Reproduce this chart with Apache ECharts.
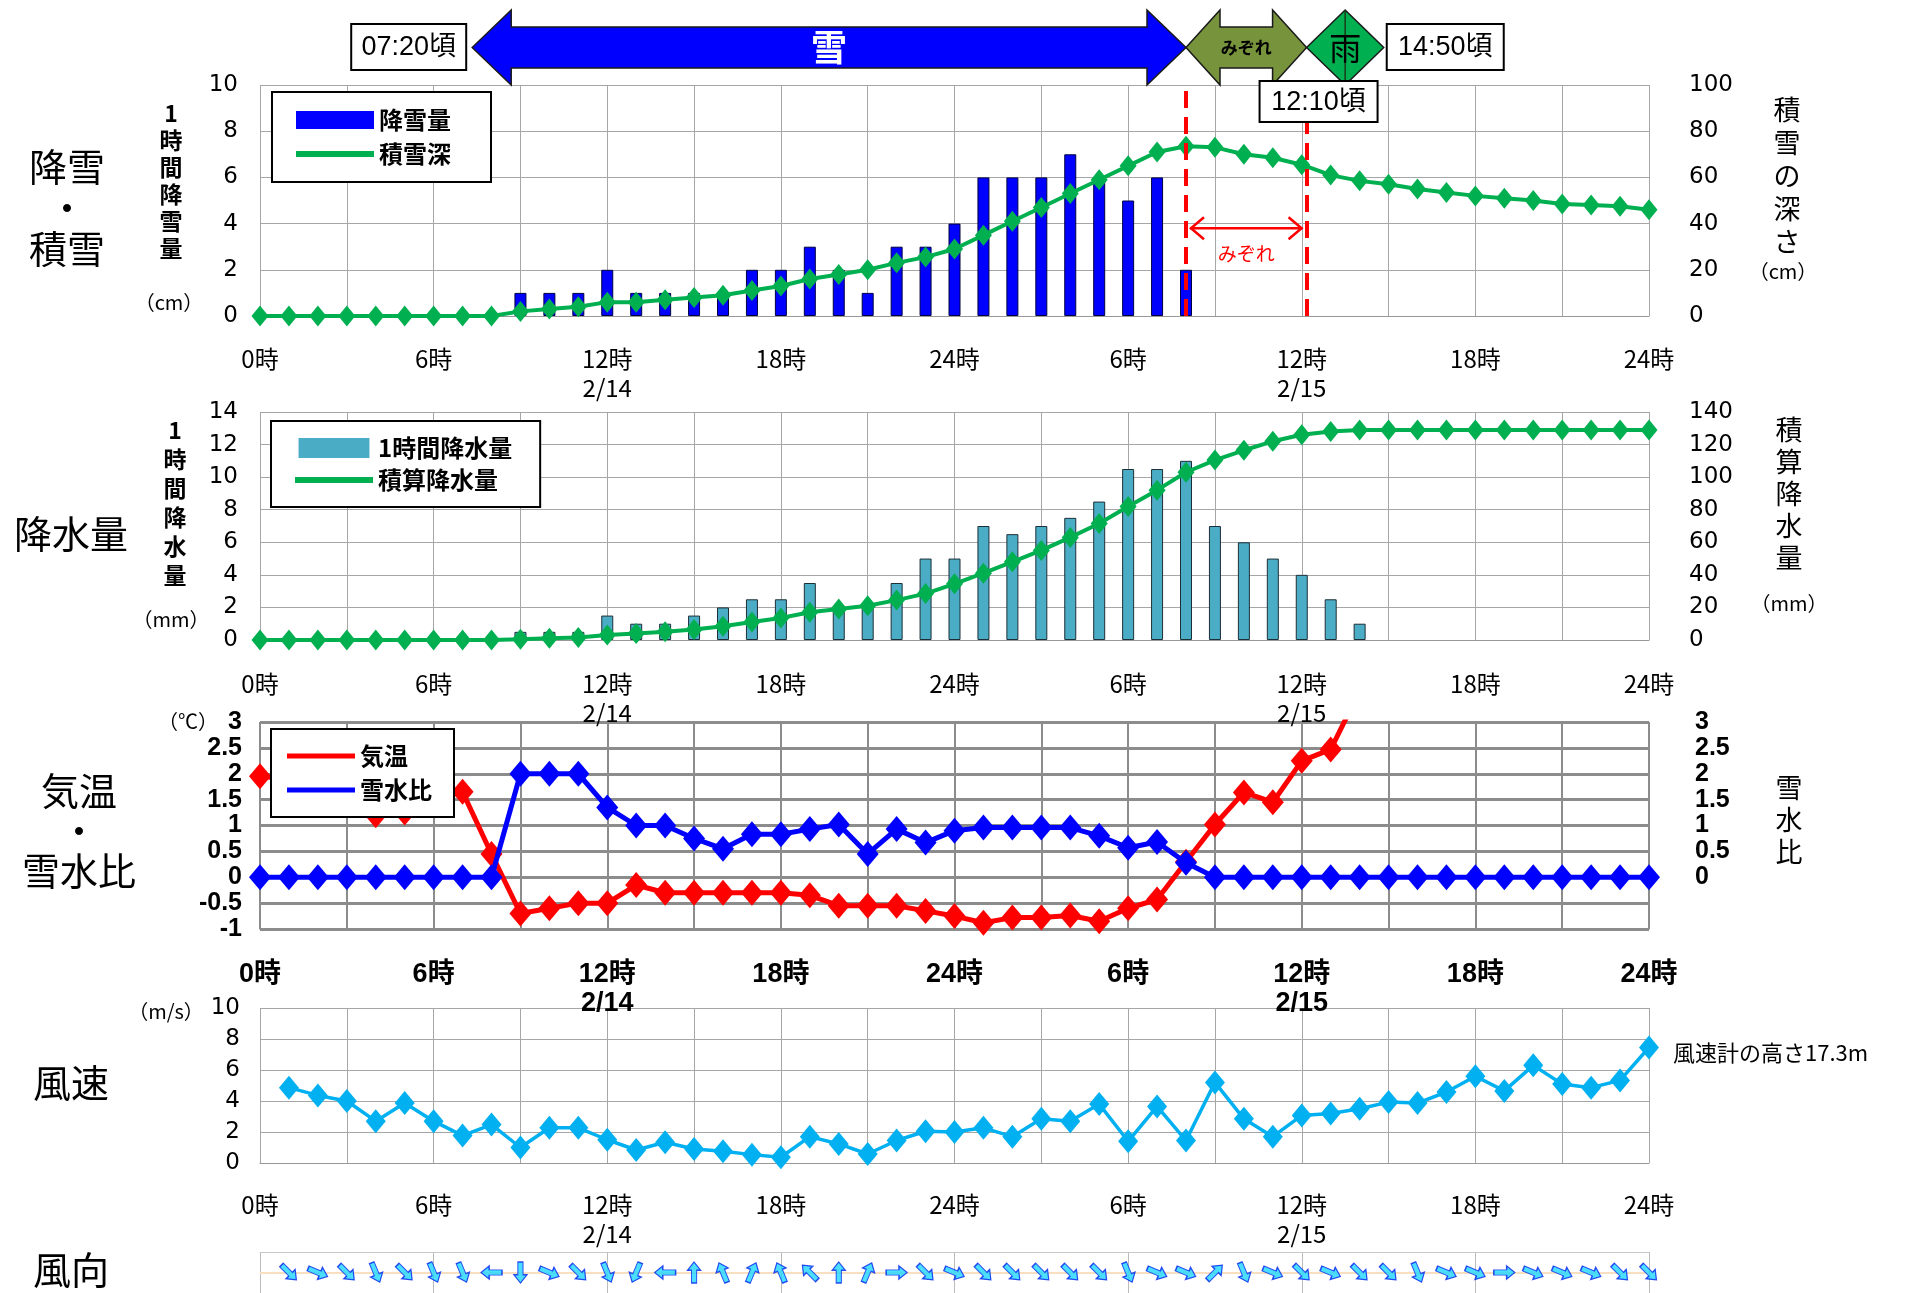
<!DOCTYPE html>
<html><head><meta charset="utf-8">
<script src="https://cdn.jsdelivr.net/npm/echarts@6.0.0/dist/echarts.min.js"></script>
<style>html,body{margin:0;padding:0;background:#fff}#c{width:1915px;height:1293px}</style>
</head><body><div id="c"></div>
<script>
// ---- data (hour 0 = 2/14 0時 ... hour 48 = 2/15 24時) ----
const hours = [0,1,2,3,4,5,6,7,8,9,10,11,12,13,14,15,16,17,18,19,20,21,22,23,24,25,26,27,28,29,30,31,32,33,34,35,36,37,38,39,40,41,42,43,44,45,46,47,48];
const tickLabels = ['0時','6時','12時\n2/14','18時','24時','6時','12時\n2/15','18時','24時'];
// 降雪量 (cm)
const snowfall = [0,0,0,0,0,0,0,0,0,1,1,1,2,1,1,1,1,2,2,3,2,1,3,3,4,6,6,6,7,6,5,6,2,0,0,0,0,0,0,0,0,0,0,0,0,0,0,0,0];
// 積雪深 (cm)
const snowDepth = [0,0,0,0,0,0,0,0,0,2,3,4,6,6,7,8,9,11,13,16,18,20,23,25.5,29,35,41,47,53,59,65,71,73.5,73,70,68.5,65.5,61,58.5,57,55,53.5,52,51,50,48.5,48,47.5,46];
// 1時間降水量 (mm)
const precip = [0,0,0,0,0,0,0,0,0,0.5,0.5,0.5,1.5,1,1,1.5,2,2.5,2.5,3.5,2,2,3.5,5,5,7,6.5,7,7.5,8.5,10.5,10.5,11,7,6,5,4,2.5,1,0,0,0,0,0,0,0,0,0,0];
// 積算降水量 (mm)
const precipTotal = [0,0,0,0,0,0,0,0,0,0.5,1,1.5,3,4,5,6.5,8.5,11,13.5,17,19,21,24.5,28.5,34.5,41,48,55,63,71.5,82,92,103,110.5,116.5,122,126,128,129,129,129,129,129,129,129,129,129,129,129];
// 気温 (℃)
const temperature = [1.95,1.9,1.8,1.6,1.2,1.25,1.5,1.65,0.45,-0.7,-0.6,-0.5,-0.5,-0.15,-0.3,-0.3,-0.3,-0.3,-0.3,-0.35,-0.55,-0.55,-0.55,-0.65,-0.75,-0.88,-0.78,-0.78,-0.74,-0.85,-0.6,-0.43,0.3,1.02,1.64,1.45,2.25,2.47,3.6,null,null,null,null,null,null,null,null,null,null];
// 雪水比
const snowWaterRatio = [0,0,0,0,0,0,0,0,0,2,2,2,1.35,1,1,0.75,0.55,0.83,0.83,0.93,1.02,0.45,0.93,0.67,0.9,0.96,0.96,0.96,0.96,0.8,0.57,0.68,0.28,0,0,0,0,0,0,0,0,0,0,0,0,0,0,0,0];
// 風速 (m/s)
const windSpeed = [null,4.86,4.36,4.0,2.7,3.87,2.7,1.77,2.48,1.0,2.27,2.27,1.5,0.84,1.34,0.9,0.76,0.54,0.37,1.7,1.23,0.58,1.45,2.05,2.0,2.27,1.7,2.85,2.7,3.8,1.4,3.65,1.45,5.2,2.85,1.7,3.07,3.2,3.5,3.93,3.87,4.58,5.6,4.65,6.3,5.1,4.86,5.33,7.45];
// 風向 (16方位, 吹いてくる方向)
const windDir = [null,'北西','西北西','北西','北北西','北西','北北西','北北西','東','北','西北西','北西','北北西','北北東','東','南','南南東','南南西','南南東','南東','南','南南西','西','北西','西北西','北西','北西','北西','北西','北西','北北西','西北西','西北西','南西','北北西','西北西','北西','西北西','北西','北西','北北西','西北西','西北西','西','西北西','西北西','西北西','北西','北西'];
const dirNames = ['北','北北東','北東','東北東','東','東南東','南東','南南東','南','南南西','南西','西南西','西','西北西','北西','北北西'];
// 天気の変化の時刻 (hour)
const snowStart = 7 + 20/60;   // 07:20頃
const sleetStart = 32;         // 2/15 08:00
const rainStart = 36 + 10/60;  // 12:10頃
const rainEnd = 38 + 50/60;    // 14:50頃

const JP = "'Noto Sans CJK JP', 'DejaVu Sans', sans-serif";
const NUM = "'DejaVu Sans', 'Noto Sans CJK JP', sans-serif";
const NARROW = "'Liberation Sans Narrow', 'Liberation Sans', 'Noto Sans CJK JP', sans-serif";

const pairs = arr => hours.map((h,i) => [h, arr[i]]);
const barPairs = arr => hours.map((h,i) => [h, arr[i] === 0 ? null : arr[i]]);
const GL = '#a6a6a6';

function xAxisFor(gi, opts) {
  opts = opts || {};
  return {
    type: 'value', gridIndex: gi, min: 0, max: 48, interval: opts.interval || 3,
    position: opts.position || 'bottom',
    axisLine: {show: true, onZero: false, lineStyle: {color: opts.lineColor || '#999', width: 1}},
    axisTick: {show: false},
    splitLine: {show: true, lineStyle: {color: opts.splitColor || GL, width: opts.splitWidth || 1}},
    axisLabel: opts.noLabel ? {show: false} : {
      formatter: v => (v % 6 === 0 ? tickLabels[v / 6] : ''),
      fontSize: opts.fontSize || 24, color: '#000', margin: opts.margin || 28, lineHeight: 29,
      fontFamily: opts.bold ? NARROW : JP, fontWeight: opts.bold ? 'bold' : 'normal'
    }
  };
}
function yAxisFor(gi, min, max, interval, pos, opts) {
  opts = opts || {};
  return {
    type: 'value', gridIndex: gi, min, max, interval, position: pos,
    axisLine: {show: false}, axisTick: {show: false},
    splitLine: {show: !!opts.split, lineStyle: {color: opts.splitColor || GL, width: opts.splitWidth || 1}},
    axisLabel: {show: opts.label !== false, fontSize: opts.fontSize || 23, color: '#000', margin: opts.margin || 22,
      fontFamily: opts.bold ? NARROW : NUM, fontWeight: opts.bold ? 'bold' : 'normal',
      formatter: opts.formatter}
  };
}

const rectIcon = 'path://M0,0H78V18H0Z';
const lineIcon = 'path://M0,0H78V6H0Z';

const option = {
  animation: false,
  backgroundColor: '#fff',
  grid: [
    {left: 260, width: 1389, top: 85, height: 231},
    {left: 260, width: 1389, top: 412, height: 228},
    {left: 260, width: 1389, top: 722, height: 207},
    {left: 260, width: 1389, top: 1008, height: 155},
    {left: 260, width: 1389, top: 1252, height: 41}
  ],
  xAxis: [
    xAxisFor(0), xAxisFor(1, {margin: 29}),
    xAxisFor(2, {bold: true, fontSize: 27, margin: 31, splitColor: '#8c8c8c', splitWidth: 2, lineColor: '#8c8c8c'}),
    xAxisFor(3, {margin: 27}),
    xAxisFor(4, {interval: 6, position: 'top', noLabel: true, lineColor: '#c8c8c8', splitColor: '#bbbbbb'})
  ],
  yAxis: [
    yAxisFor(0, 0, 10, 2, 'left', {split: true}),
    yAxisFor(0, 0, 100, 20, 'right', {margin: 40}),
    yAxisFor(1, 0, 14, 2, 'left', {split: true}),
    yAxisFor(1, 0, 140, 20, 'right', {margin: 40}),
    yAxisFor(2, -1, 3, 0.5, 'left', {split: true, bold: true, fontSize: 25, margin: 18, splitColor: '#8c8c8c', splitWidth: 3}),
    yAxisFor(2, -1, 3, 0.5, 'right', {bold: true, fontSize: 25, margin: 46, formatter: v => (v < 0 ? '' : String(v))}),
    yAxisFor(3, 0, 10, 2, 'left', {split: true, margin: 20}),
    yAxisFor(4, -1, 1, 1, 'left', {label: false})
  ],
  legend: [
    {left: 272, top: 92, orient: 'vertical', data: [{name: '降雪量', icon: rectIcon}, {name: '積雪深', icon: lineIcon}],
     itemWidth: 78, itemHeight: 18, itemGap: 10, itemTextGap: 12, itemStyle: {borderWidth: 0},
     borderColor: '#000', borderWidth: 2, padding: [16, 40, 16, 24], backgroundColor: '#fff',
     textStyle: {fontSize: 24, fontWeight: 'bold', color: '#000', fontFamily: JP}},
    {left: 271, top: 421, orient: 'vertical', data: [{name: '1時間降水量', icon: 'path://M0,0H78V22H0Z'}, {name: '積算降水量', icon: lineIcon}],
     itemWidth: 78, itemHeight: 20, itemGap: 8, itemTextGap: 12, itemStyle: {borderWidth: 0},
     borderColor: '#000', borderWidth: 2, padding: [15, 28, 15, 24], backgroundColor: '#fff',
     textStyle: {fontSize: 24, fontWeight: 'bold', color: '#000', fontFamily: JP}},
    {left: 271, top: 729, orient: 'vertical', data: [{name: '気温', icon: lineIcon}, {name: '雪水比', icon: lineIcon}],
     itemWidth: 68, itemHeight: 18, itemGap: 10, itemTextGap: 14, itemStyle: {borderWidth: 0},
     borderColor: '#000', borderWidth: 2, padding: [15, 22, 15, 16], backgroundColor: '#fff',
     textStyle: {fontSize: 24, fontWeight: 'bold', color: '#000', fontFamily: JP}}
  ],
  series: [
    {name: '降雪量', type: 'bar', xAxisIndex: 0, yAxisIndex: 0, data: barPairs(snowfall), barWidth: 12,
     itemStyle: {color: '#0000ff', borderColor: '#000040', borderWidth: 1}, z: 2},
    {name: '積雪深', type: 'line', xAxisIndex: 0, yAxisIndex: 1, data: pairs(snowDepth),
     symbol: 'diamond', symbolSize: [17, 21], lineStyle: {width: 4, color: '#00b050'}, itemStyle: {color: '#00b050'}, z: 3,
     markLine: {silent: true, symbol: 'none', label: {show: false},
       lineStyle: {color: '#ff0000', width: 4, type: [17, 9]},
       data: [{xAxis: sleetStart}, {xAxis: rainStart}]}},
    {name: '1時間降水量', type: 'bar', xAxisIndex: 1, yAxisIndex: 2, data: barPairs(precip), barWidth: 12,
     itemStyle: {color: '#4bacc6', borderColor: '#1d2f36', borderWidth: 1}, z: 2},
    {name: '積算降水量', type: 'line', xAxisIndex: 1, yAxisIndex: 3, data: pairs(precipTotal),
     symbol: 'diamond', symbolSize: [17, 21], lineStyle: {width: 4, color: '#00b050'}, itemStyle: {color: '#00b050'}, z: 3},
    {name: '気温', type: 'line', xAxisIndex: 2, yAxisIndex: 4, data: pairs(temperature), connectNulls: false,
     symbol: 'diamond', symbolSize: [22, 26], lineStyle: {width: 5, color: '#ff0000'}, itemStyle: {color: '#ff0000'}, z: 3},
    {name: '雪水比', type: 'line', xAxisIndex: 2, yAxisIndex: 5, data: pairs(snowWaterRatio),
     symbol: 'diamond', symbolSize: [22, 26], lineStyle: {width: 5, color: '#0000ff'}, itemStyle: {color: '#0000ff'}, z: 4},
    {name: '風速', type: 'line', xAxisIndex: 3, yAxisIndex: 6, data: pairs(windSpeed),
     symbol: 'diamond', symbolSize: [20, 24], lineStyle: {width: 3.5, color: '#00b0f0'}, itemStyle: {color: '#00b0f0'}, z: 3},
    {name: '風向', type: 'scatter', xAxisIndex: 4, yAxisIndex: 7,
     data: hours.filter((h, i) => windDir[i]).map(h => {
       const from = dirNames.indexOf(windDir[h]) * 22.5;
       return {value: [h, 0], symbolRotate: -(from + 180)};
     }),
     symbol: 'path://M5,0L10,7L7,7L7,18L3,18L3,7L0,7Z', symbolSize: [13, 21],
     itemStyle: {color: '#1fd6ff', borderColor: '#0022ee', borderWidth: 1.2}, z: 3,
     markLine: {silent: true, symbol: 'none', label: {show: false}, lineStyle: {color: '#f8dfc0', width: 2, type: 'solid'},
       data: [{yAxis: 0}], z: 1}}
  ]
};

const chart = echarts.init(document.getElementById('c'));
chart.setOption(option);

// ---- texts and banner ----
const px = h => chart.convertToPixel({xAxisIndex: 0}, h);
const py0 = v => chart.convertToPixel({yAxisIndex: 0}, v);
const txt = (text, x, y, size, extra) => Object.assign({type: 'text', z: 20, style: Object.assign({
  text, x, y, fontSize: size, fontFamily: JP, fill: '#000', align: 'center', verticalAlign: 'middle'}, extra || {})});

const yT = 10, yB = 85, yC = 47.5, sT = 27, sB = 68;
function dblArrow(x1, x2, hw, fill) {
  return {type: 'polygon', z: 10, shape: {points: [[x1, yC], [x1 + hw, yT], [x1 + hw, sT], [x2 - hw, sT], [x2 - hw, yT], [x2, yC], [x2 - hw, yB], [x2 - hw, sB], [x1 + hw, sB], [x1 + hw, yB]]},
    style: {fill, stroke: '#1a1a1a', lineWidth: 1.5}};
}
function box(x, y, w, h, text) {
  return [{type: 'rect', z: 15, shape: {x, y, width: w, height: h}, style: {fill: '#fff', stroke: '#000', lineWidth: 2}},
          txt(text, x + w / 2, y + h / 2 + 1, 27, {fontFamily: NARROW, z: 16})];
}
const xs = px(snowStart), xsl = px(sleetStart), xr = px(rainStart), xre = px(rainEnd);
const ya = py0(3.8), ym = py0(2.7);
const g = [];
g.push(dblArrow(xs, xsl, 39, '#0000ff'));
g.push(txt('雪', (xs + xsl) / 2, yC, 36, {fill: '#fff', fontWeight: 'bold'}));
g.push(dblArrow(xsl, xr, 34, '#77933c'));
g.push(txt('みぞれ', (xsl + xr) / 2, yC, 17, {fontWeight: 'bold'}));
g.push({type: 'polygon', z: 10, shape: {points: [[xr, yC], [(xr + xre) / 2, yT], [xre, yC], [(xr + xre) / 2, yB]]}, style: {fill: '#00b050', stroke: '#1a1a1a', lineWidth: 1.5}});
g.push({type: 'line', z: 11, shape: {x1: (xr + xre) / 2, y1: yT, x2: (xr + xre) / 2, y2: yB}, style: {stroke: '#1a3a1a', lineWidth: 1.5}});
g.push(txt('雨', (xr + xre) / 2, yC, 32, {z: 12}));
g.push(...box(xs - 121, 24, 115, 46, '07:20頃'));
g.push(...box(xre + 3, 24, 117, 46, '14:50頃'));
g.push(...box(xr - 47, 81, 118, 41, '12:10頃'));
// みぞれ期間の矢印
g.push({type: 'line', z: 12, shape: {x1: xsl + 4, y1: ya, x2: xr - 4, y2: ya}, style: {stroke: '#ff0000', lineWidth: 2.5}});
g.push({type: 'polyline', z: 12, shape: {points: [[xsl + 18, ya - 11], [xsl + 5, ya], [xsl + 18, ya + 11]]}, style: {stroke: '#ff0000', lineWidth: 2.5, fill: null}});
g.push({type: 'polyline', z: 12, shape: {points: [[xr - 18, ya - 11], [xr - 5, ya], [xr - 18, ya + 11]]}, style: {stroke: '#ff0000', lineWidth: 2.5, fill: null}});
g.push(txt('みぞれ', (xsl + xr) / 2, ym, 19, {fill: '#ff0000'}));
// panel titles
g.push(txt('降雪\n・\n積雪', 67, 208, 38, {lineHeight: 41}));
g.push(txt('降水量', 71, 534, 38));
g.push(txt('気温\n・\n雪水比', 79, 831, 38, {lineHeight: 40}));
g.push(txt('風速', 71, 1083, 38));
g.push(txt('風向', 71, 1270, 38));
// axis names
g.push(txt('1\n時\n間\n降\n雪\n量', 171, 181, 23, {lineHeight: 27, fontWeight: 'bold'}));
g.push(txt('（cm）', 169, 302, 20));
g.push(txt('積\n雪\nの\n深\nさ', 1787, 176, 27, {lineHeight: 33}));
g.push(txt('（cm）', 1783, 271, 20));
g.push(txt('1\n時\n間\n降\n水\n量', 175, 503, 23, {lineHeight: 29, fontWeight: 'bold'}));
g.push(txt('（mm）', 171, 619, 20));
g.push(txt('積\n算\n降\n水\n量', 1789, 494, 27, {lineHeight: 32}));
g.push(txt('（mm）', 1789, 603, 20));
g.push(txt('（℃）', 188, 721, 20));
g.push(txt('雪\n水\n比', 1789, 820, 27, {lineHeight: 32}));
g.push(txt('（m/s）', 166, 1011, 20));
g.push(txt('風速計の高さ17.3m', 1673, 1053, 22, {align: 'left'}));
chart.setOption({graphic: g});
</script>
</body></html>
